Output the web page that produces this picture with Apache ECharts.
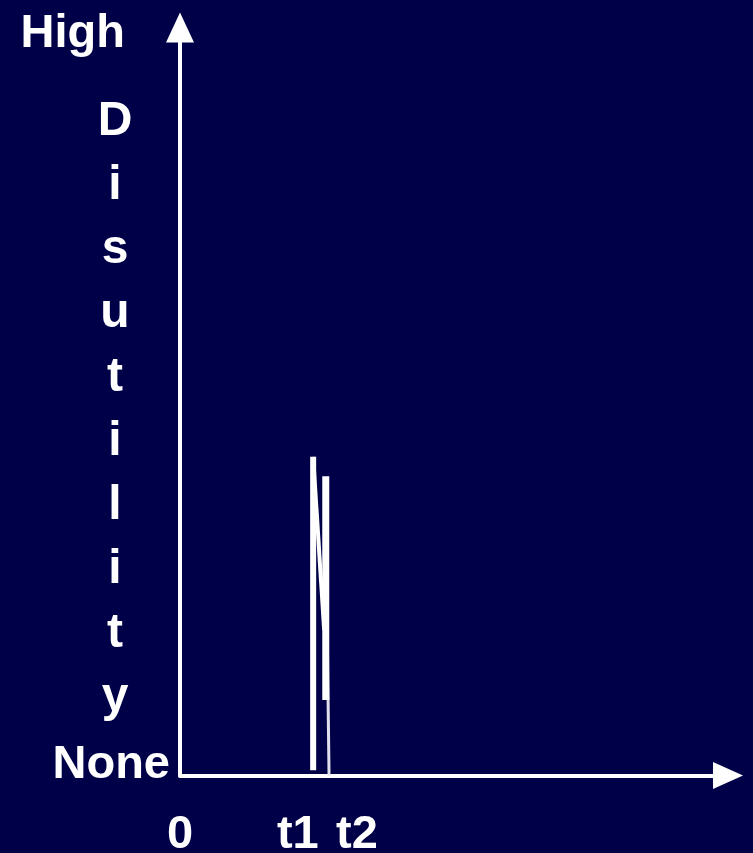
<!DOCTYPE html>
<html>
<head>
<meta charset="UTF-8">
<title>Disutility</title>
<script src="https://cdn.jsdelivr.net/npm/echarts@6/dist/echarts.min.js"></script>
<style>
  html, body { margin: 0; padding: 0; background: #000048; }
  #main { width: 753px; height: 853px; }
</style>
</head>
<body>
<div id="main"></div>
<script type="text/javascript">
    // values (x: 0..100, y: 0..100)
    var spikeT1 = [[24.3, 0.7], [24.3, 42.6]];
    var slopeT1 = [[24.3, 42.6], [26.3, 19.5]];
    var spikeT2 = [[26.6, 40.0], [26.6, 10.1]];
    var fallT2  = [[26.5, 39.8], [27.2, 0]];

    var xTickValues = [0, 21.5, 32.3];
    var xTickLabels = ['0', 't1', 't2'];
    var yTickValues = [0, 100];
    var yTickLabels = ['{lo|None}', '{hi|High}'];
    var yName = 'Disutility';

    var font = '"Liberation Sans", Arial, sans-serif';

    var myChart = echarts.init(document.getElementById('main'));

    function lineSeries(data, width, color) {
        return {
            type: 'line',
            data: data,
            symbol: 'none',
            silent: true,
            lineStyle: { color: color, width: width }
        };
    }

    var option = {
        backgroundColor: '#000048',
        animation: false,
        grid: { left: 180, right: 25, top: 27.5, bottom: 77.5, containLabel: false, outerBoundsMode: 'none' },
        // y title written one letter per line
        graphic: [{
            type: 'text',
            x: 115,
            y: 90,
            silent: true,
            style: {
                text: yName.split('').join('\n'),
                align: 'center',
                verticalAlign: 'top',
                fill: '#ffffff',
                fontFamily: font,
                fontWeight: 'bold',
                fontSize: 48,
                lineHeight: 64
            }
        }],
        xAxis: {
            type: 'value',
            min: 0,
            max: 100,
            splitLine: { show: false },
            axisTick: { show: false },
            axisLine: {
                lineStyle: { color: '#ffffff', width: 4 },
                symbol: ['none', 'triangle'],
                symbolSize: [27, 30]
            },
            axisLabel: {
                customValues: xTickValues,
                formatter: function (v) {
                    var i = xTickValues.indexOf(v);
                    return i >= 0 ? xTickLabels[i] : '';
                },
                margin: 36,
                color: '#ffffff',
                fontFamily: font,
                fontWeight: 'bold',
                fontSize: 47
            }
        },
        yAxis: {
            type: 'value',
            min: 0,
            max: 100,
            splitLine: { show: false },
            axisTick: { show: false },
            axisLine: {
                lineStyle: { color: '#ffffff', width: 4 },
                symbol: ['none', 'triangle'],
                symbolSize: [28, 30]
            },
            axisLabel: {
                customValues: yTickValues,
                formatter: function (v) {
                    var i = yTickValues.indexOf(v);
                    return i >= 0 ? yTickLabels[i] : '';
                },
                margin: 10,
                color: '#ffffff',
                fontFamily: font,
                fontWeight: 'bold',
                fontSize: 47,
                rich: {
                    lo: { color: '#ffffff', fontFamily: font, fontWeight: 'bold', fontSize: 47, padding: [0, 0, 20, 0] },
                    hi: { color: '#ffffff', fontFamily: font, fontWeight: 'bold', fontSize: 47, padding: [14, 45, 0, 0] }
                }
            }
        },
        series: [
            lineSeries(spikeT1, 6, '#ffffff'),
            lineSeries(slopeT1, 4, '#ffffff'),
            lineSeries(fallT2, 3, '#e0e0ec'),
            lineSeries(spikeT2, 7, '#ffffff')
        ]
    };

    myChart.setOption(option);
</script>
</body>
</html>
